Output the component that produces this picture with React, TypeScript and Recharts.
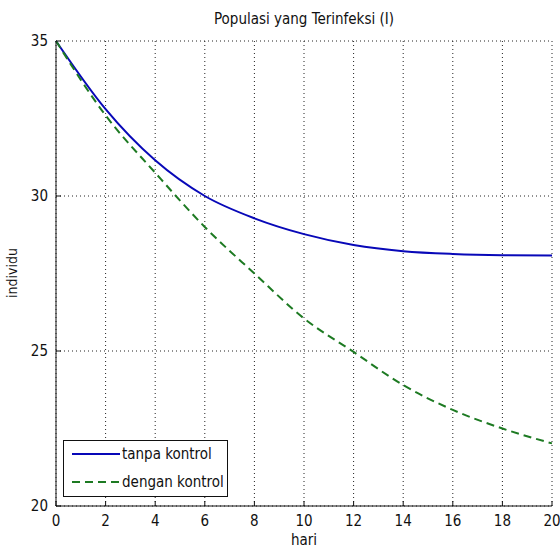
import React from 'react';
import { LineChart, Line, XAxis, YAxis, CartesianGrid } from 'recharts';

// values
const hari = [0, 2, 4, 6, 8, 10, 12, 14, 16, 18, 20];
const tanpaKontrol = [35, 32.8, 31.15, 30.0, 29.28, 28.77, 28.42, 28.22, 28.13, 28.09, 28.08];
const denganKontrol = [35, 32.6, 30.75, 29.0, 27.5, 26.05, 24.97, 23.9, 23.1, 22.5, 22.02];
const xTicks = [0, 2, 4, 6, 8, 10, 12, 14, 16, 18, 20];
const yTicks = [20, 25, 30, 35];

const data = hari.map((h, i) => ({
  hari: h,
  tanpa: tanpaKontrol[i],
  dengan: denganKontrol[i],
}));

const FONT = '"DejaVu Sans Condensed", "Liberation Sans Narrow", Arial, sans-serif';
const BLUE = '#0808b8';
const GREEN = '#1d7a22';
const INK = '#111';
const X_MARGIN = 8;
const Y_MARGIN = 8;

// tick label plus MATLAB-style inward tick mark
function BottomTick(props: any) {
  const { x, y, payload } = props;
  return (
    <g>
      <line x1={x} y1={y - X_MARGIN} x2={x} y2={y - X_MARGIN - 5} stroke={INK} />
      <text x={x} y={y + 12} textAnchor="middle" fill={INK} style={{ fontFamily: FONT, fontSize: 15 }}>
        {payload.value}
      </text>
    </g>
  );
}

function LeftTick(props: any) {
  const { x, y, payload } = props;
  return (
    <g>
      <line x1={x + Y_MARGIN} y1={y} x2={x + Y_MARGIN + 5} y2={y} stroke={INK} />
      <text x={x} y={y + 5} textAnchor="end" fill={INK} style={{ fontFamily: FONT, fontSize: 15 }}>
        {payload.value}
      </text>
    </g>
  );
}

function TopTick(props: any) {
  const { x, y } = props;
  return <line x1={x} y1={y} x2={x} y2={y + 5} stroke={INK} />;
}

function RightTick(props: any) {
  const { x, y } = props;
  return <line x1={x} y1={y} x2={x - 5} y2={y} stroke={INK} />;
}

function LegendBox() {
  return (
    <div
      style={{
        position: 'absolute',
        left: 63,
        top: 440,
        width: 165,
        height: 57,
        border: '1px solid #111',
        background: '#fff',
        boxSizing: 'border-box',
      }}
    >
      <svg width={163} height={55} style={{ display: 'block' }}>
        <line x1={8} y1={13} x2={56} y2={13} stroke={BLUE} strokeWidth={2} />
        <text x={58} y={18} style={{ fontFamily: FONT, fontSize: 15 }} fill={INK}>tanpa kontrol</text>
        <line x1={8} y1={41} x2={56} y2={41} stroke={GREEN} strokeWidth={2} strokeDasharray="8 5" />
        <text x={58} y={46} style={{ fontFamily: FONT, fontSize: 15 }} fill={INK}>dengan kontrol</text>
      </svg>
    </div>
  );
}

const textStyle: React.CSSProperties = {
  position: 'absolute',
  fontFamily: FONT,
  fontSize: 14,
  color: INK,
  whiteSpace: 'nowrap',
};

export default function App() {
  return (
    <div style={{ position: 'absolute', left: 0, top: 0, width: 560, height: 551, background: '#fff' }}>
      <div style={{ ...textStyle, fontSize: 15, left: 56, width: 496, top: 10, textAlign: 'center' }}>
        Populasi yang Terinfeksi (I)
      </div>
      <div
        style={{
          ...textStyle,
          left: 12,
          top: 273,
          transform: 'translate(-50%, -50%) rotate(-90deg)',
        }}
      >
        individu
      </div>
      <div style={{ ...textStyle, fontSize: 15, left: 56, width: 496, top: 531, textAlign: 'center' }}>
        hari
      </div>
      <LineChart
        width={560}
        height={551}
        data={data}
        margin={{ top: 41, right: 8, bottom: 0, left: 0 }}
      >
        <CartesianGrid stroke="#222" strokeDasharray="1 3" />
        <XAxis
          dataKey="hari"
          type="number"
          domain={[0, 20]}
          ticks={xTicks}
          height={45}
          stroke={INK}
          tickLine={false}
          tickSize={0}
          tickMargin={X_MARGIN}
          tick={<BottomTick />}
          interval={0}
        />
        <XAxis
          xAxisId="top"
          orientation="top"
          dataKey="hari"
          type="number"
          domain={[0, 20]}
          ticks={xTicks}
          height={0}
          stroke={INK}
          tickLine={false}
          tickSize={0}
          tickMargin={0}
          tick={<TopTick />}
          interval={0}
        />
        <YAxis
          type="number"
          domain={[20, 35]}
          ticks={yTicks}
          width={56}
          stroke={INK}
          tickLine={false}
          tickSize={0}
          tickMargin={Y_MARGIN}
          tick={<LeftTick />}
          interval={0}
        />
        <YAxis
          yAxisId="right"
          orientation="right"
          type="number"
          domain={[20, 35]}
          ticks={yTicks}
          width={0}
          stroke={INK}
          tickLine={false}
          tickSize={0}
          tickMargin={0}
          tick={<RightTick />}
          interval={0}
        />
        <Line
          type="monotone"
          dataKey="tanpa"
          stroke={BLUE}
          strokeWidth={2}
          dot={false}
          isAnimationActive={false}
        />
        <Line
          type="monotone"
          dataKey="dengan"
          stroke={GREEN}
          strokeWidth={2}
          strokeDasharray="8 5"
          dot={false}
          isAnimationActive={false}
        />
      </LineChart>
      <LegendBox />
    </div>
  );
}
